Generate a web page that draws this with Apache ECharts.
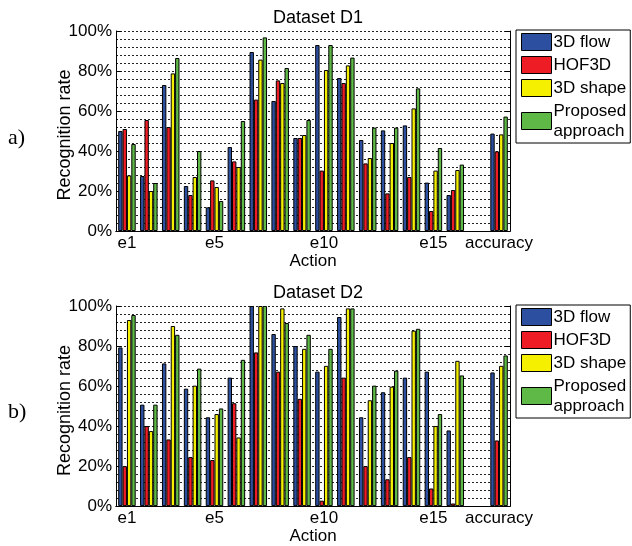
<!DOCTYPE html>
<html><head><meta charset="utf-8">
<script src="https://cdn.jsdelivr.net/npm/echarts@6/dist/echarts.min.js"></script>
<style>html,body{margin:0;padding:0;background:#fff}#c{width:632px;height:546px}</style>
</head><body><div id="c"></div>
<script>
const categories = ['e1','e2','e3','e4','e5','e6','e7','e8','e9','e10','e11','e12','e13','e14','e15','e16','e17','accuracy'];
const shownTicks = [0,4,9,14,17];
const seriesNames = ['3D flow','HOF3D','3D shape','Proposed\napproach'];
const colors = ['#2c4fa0','#ee1c25','#f5f000','#5fb946'];

const d1Flow  = [50,27.5,73,22.5,11.8,42,89.5,65,46.5,93,76.5,45.5,50.3,52.8,24.2,18,null,48.7];
const d1Hof   = [51,55.5,52,18,25.3,34.8,65.7,75.3,46.5,30.2,74,33.8,18.8,27,10,20.5,null,39.8];
const d1Shape = [27.8,20,78.8,27,22,32,85.7,74,48,80.5,82.8,36.5,44,61.3,30.2,30.5,null,48.3];
const d1Prop  = [43.5,24,86.5,40,15,55,96.8,81.5,55.5,93,86.7,51.7,51.7,71.3,41.5,33.2,null,57.2];

const d2Flow  = [79.3,50.7,71.3,58.7,44.4,64.2,100,86,80,67.2,94.5,44.4,56.9,64.2,67.2,37.8,null,66.8];
const d2Hof   = [20,40,33.3,24.5,23,51.4,76.8,67.2,53.6,2.7,64.2,20,13.4,24.5,8.8,1.3,null,32.8];
const d2Shape = [93,37.5,90,60.2,46,34.3,100,98.8,78.6,70.1,98.8,52.9,59.7,87.7,40,72.6,null,70.1];
const d2Prop  = [95.5,50.7,85.6,68.7,48.8,73.1,100,91.5,85.6,78.6,98.8,60.2,67.7,88.6,46,65.3,null,75.3];

const datasets = [[d1Flow,d1Hof,d1Shape,d1Prop],[d2Flow,d2Hof,d2Shape,d2Prop]];
const titles = ['Dataset D1','Dataset D2'];
const yName = 'Recognition rate';

const FONT = 'Liberation Sans, Arial, sans-serif';
const grids = [
  {left:116, top:31, width:394, height:200},
  {left:116, top:306, width:394, height:201}
];
const tickInt = (i) => shownTicks.indexOf(i) >= 0;

const xAxis = [], yAxis = [], series = [], legend = [], title = [], graphic = [];
grids.forEach((g, gi) => {
  xAxis.push({
    type:'category', gridIndex:gi, data:categories, boundaryGap:true,
    name:'Action', nameLocation:'middle', nameGap:21,
    nameTextStyle:{fontFamily:FONT, fontSize:17, color:'#000'},
    axisLine:{lineStyle:{color:'#000'}},
    axisTick:{inside:true, length:5, alignWithLabel:true, interval:(i)=>tickInt(i), lineStyle:{color:'#000'}},
    axisLabel:{interval:(i)=>tickInt(i), fontFamily:FONT, fontSize:17, color:'#000', margin:4},
    splitLine:{show:false}
  });
  xAxis.push({
    type:'category', gridIndex:gi, data:categories, position:'top', boundaryGap:true,
    axisLine:{lineStyle:{color:'#000'}},
    axisTick:{inside:true, length:5, alignWithLabel:true, interval:(i)=>tickInt(i), lineStyle:{color:'#000'}},
    axisLabel:{show:false}, splitLine:{show:false}
  });
  yAxis.push({
    type:'value', gridIndex:gi, min:0, max:100, interval:20,
    axisLine:{show:true, lineStyle:{color:'#000'}},
    axisTick:{show:true, inside:true, length:5, lineStyle:{color:'#000'}},
    axisLabel:{fontFamily:FONT, fontSize:17, color:'#000', margin:4, formatter:(v)=>v+'%'},
    splitLine:{show:true, lineStyle:{color:'#222', type:[2,2], width:1}},
    minorTick:{show:false, splitNumber:5},
    minorSplitLine:{show:true, lineStyle:{color:'#222', type:[2,2], width:1}}
  });
  yAxis.push({
    type:'value', gridIndex:gi, min:0, max:100, interval:20, position:'right',
    axisLine:{show:true, lineStyle:{color:'#000'}},
    axisTick:{show:true, inside:true, length:5, lineStyle:{color:'#000'}},
    axisLabel:{show:false}, splitLine:{show:false}
  });
  datasets[gi].forEach((vals, si) => {
    series.push({
      type:'bar', name:seriesNames[si], xAxisIndex:gi*2, yAxisIndex:gi*2,
      data:vals, barGap:'0%', barCategoryGap:'20%',
      itemStyle:{color:colors[si], borderColor:'#000', borderWidth:1},
      emphasis:{disabled:true}, animation:false
    });
  });
  title.push({
    text:titles[gi], left:313, textAlign:'center', top:g.top-27,
    textStyle:{fontFamily:FONT, fontSize:18, fontWeight:'normal', color:'#000'}
  });
  legend.push({
    orient:'vertical', left:516, top:g.top-1,
    data:seriesNames, itemWidth:30, itemHeight:17, itemGap:3,
    padding:[2,4,2,5], borderColor:'#000', borderWidth:1,
    icon:'rect', selectedMode:false,
    textStyle:{fontFamily:FONT, fontSize:17, color:'#000', padding:[0,0,0,-3], lineHeight:20},
    itemStyle:{borderColor:'#000', borderWidth:1}
  });
  graphic.push({
    type:'text', x:65, y:g.top + g.height/2 + 4, rotation:Math.PI/2,
    style:{text:yName, font:'18px ' + FONT, fill:'#000', textAlign:'center', textVerticalAlign:'middle'}
  });
});
graphic.push({type:'text', left:8, top:127, style:{text:'a)', font:'22px Liberation Serif, serif', fill:'#000'}});
graphic.push({type:'text', left:8, top:401, style:{text:'b)', font:'22px Liberation Serif, serif', fill:'#000'}});

const chart = echarts.init(document.getElementById('c'), null, {renderer:'canvas'});
chart.setOption({
  animation:false,
  backgroundColor:'#fff',
  title, legend, grid:grids, xAxis, yAxis, series, graphic
});
</script></body></html>
